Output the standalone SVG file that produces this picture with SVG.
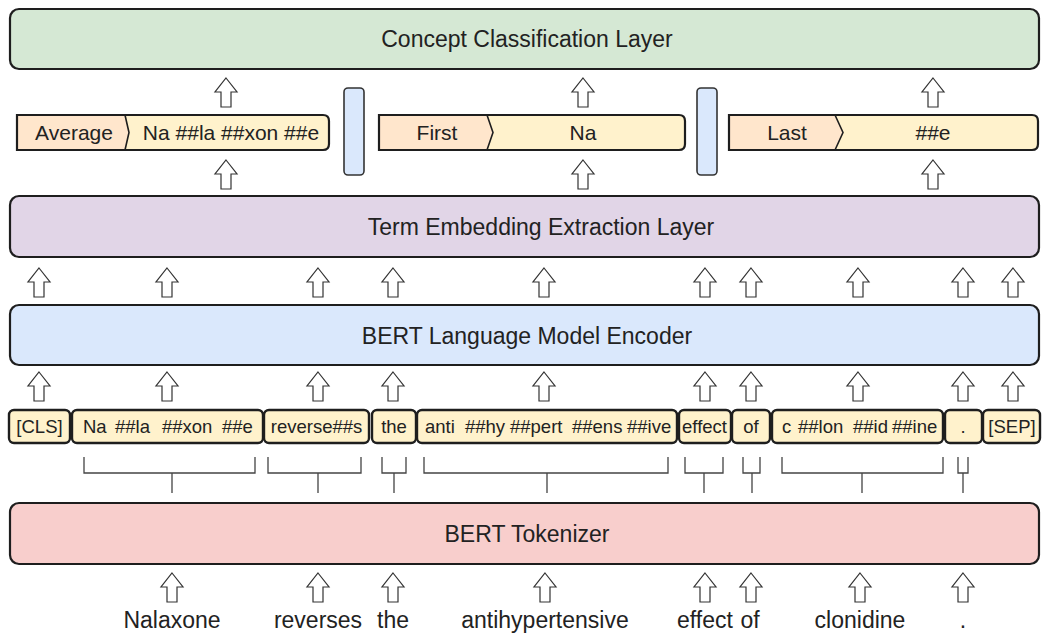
<svg xmlns="http://www.w3.org/2000/svg" xmlns:xlink="http://www.w3.org/1999/xlink" width="1044" height="637" viewBox="0 0 1044 637">
<style>
  text { font-family: "Liberation Sans", Arial, sans-serif; fill: #222; text-anchor: middle; }
  .layer { stroke: #1e1e1e; stroke-width: 2.2; }
  .title { font-size: 23px; }
  .tok { fill: #fff2cc; stroke: #1e1e1e; stroke-width: 2.4; }
  .tokt { font-size: 18.5px; }
  .sub { text-anchor: start; }
  .mid { font-size: 21px; }
  .word { font-size: 23px; }
  .orange { fill: #ffe6cc; }
  .yellow { fill: #fff2cc; }
  .outline { fill: none; stroke: #1e1e1e; stroke-width: 2.2; }
  .chev { fill: none; stroke: #1e1e1e; stroke-width: 1.6; }
  .bar { fill: #dae8fc; stroke: #333; stroke-width: 1.6; }
  .arrow { fill: #fff; stroke: #333; stroke-width: 1.2; stroke-linejoin: miter; }
  .brk { fill: none; stroke: #444; stroke-width: 1.3; }
</style>
<defs>
  <path id="arr" class="arrow" d="M0,0 L11,14 L5,14 L5,29 L-5,29 L-5,14 L-11,14 Z"/>
</defs>

<g id="concept-layer">
  <rect class="layer" x="10" y="9" width="1029" height="60" rx="9" fill="#d5e8d4"/>
  <text class="title" x="527" y="47">Concept Classification Layer</text>
</g>

<g id="pool-average">
  <path class="yellow" d="M17,115 H323 Q329,115 329,121 V144 Q329,150 323,150 H17 Z"/>
  <path class="orange" d="M17,115 L125,115 L129,132.5 L125,150 L17,150 Z"/>
  <path class="chev" d="M125,115 L129,132.5 L125,150"/>
  <path class="outline" d="M17,115 H323 Q329,115 329,121 V144 Q329,150 323,150 H17 Z"/>
  <text class="mid" x="74" y="140">Average</text>
  <text class="mid" x="231" y="140">Na ##la ##xon ##e</text>
</g>

<g id="sep-bar-1">
  <rect class="bar" x="344" y="88" width="20" height="87" rx="4"/>
</g>

<g id="pool-first">
  <path class="yellow" d="M379,115 H679 Q685,115 685,121 V144 Q685,150 679,150 H379 Z"/>
  <path class="orange" d="M379,115 L487,115 L493,132.5 L487,150 L379,150 Z"/>
  <path class="chev" d="M487,115 L493,132.5 L487,150"/>
  <path class="outline" d="M379,115 H679 Q685,115 685,121 V144 Q685,150 679,150 H379 Z"/>
  <text class="mid" x="437" y="140">First</text>
  <text class="mid" x="583" y="140">Na</text>
</g>

<g id="sep-bar-2">
  <rect class="bar" x="697" y="88" width="20" height="87" rx="4"/>
</g>

<g id="pool-last">
  <path class="yellow" d="M729,115 H1032 Q1038,115 1038,121 V144 Q1038,150 1032,150 H729 Z"/>
  <path class="orange" d="M729,115 L835,115 L843,132.5 L835,150 L729,150 Z"/>
  <path class="chev" d="M835,115 L843,132.5 L835,150"/>
  <path class="outline" d="M729,115 H1032 Q1038,115 1038,121 V144 Q1038,150 1032,150 H729 Z"/>
  <text class="mid" x="787" y="140">Last</text>
  <text class="mid" x="933" y="140">##e</text>
</g>

<g id="term-layer">
  <rect class="layer" x="10" y="196" width="1029" height="61" rx="9" fill="#e1d5e7"/>
  <text class="title" x="541" y="235">Term Embedding Extraction Layer</text>
</g>

<g id="encoder-layer">
  <rect class="layer" x="10" y="305" width="1029" height="60" rx="9" fill="#dae8fc"/>
  <text class="title" x="527" y="344">BERT Language Model Encoder</text>
</g>

<g id="tokens">
  <g id="tok-cls"><rect class="tok" x="9" y="410" width="61" height="33" rx="5"/><text class="tokt" x="39.5" y="433">[CLS]</text></g>
  <g id="tok-nalaxone"><rect class="tok" x="72" y="410" width="191" height="33" rx="5"/>
    <text class="tokt sub" y="433"><tspan x="83">Na</tspan><tspan x="115">##la</tspan><tspan x="162">##xon</tspan><tspan x="222">##e</tspan></text></g>
  <g id="tok-reverses"><rect class="tok" x="264" y="410" width="105" height="33" rx="5"/><text class="tokt" x="316.5" y="433">reverse##s</text></g>
  <g id="tok-the"><rect class="tok" x="372" y="410" width="44" height="33" rx="5"/><text class="tokt" x="394" y="433">the</text></g>
  <g id="tok-anti"><rect class="tok" x="417" y="410" width="260" height="33" rx="5"/>
    <text class="tokt sub" y="433"><tspan x="425">anti</tspan><tspan x="465">##hy</tspan><tspan x="510">##pert</tspan><tspan x="572">##ens</tspan><tspan x="627">##ive</tspan></text></g>
  <g id="tok-effect"><rect class="tok" x="679" y="410" width="52" height="33" rx="5"/><text class="tokt" x="704.5" y="433">effect</text></g>
  <g id="tok-of"><rect class="tok" x="732" y="410" width="38" height="33" rx="5"/><text class="tokt" x="751" y="433">of</text></g>
  <g id="tok-clonidine"><rect class="tok" x="772" y="410" width="171" height="33" rx="5"/>
    <text class="tokt sub" y="433"><tspan x="782">c</tspan><tspan x="798">##lon</tspan><tspan x="853">##id</tspan><tspan x="892">##ine</tspan></text></g>
  <g id="tok-dot"><rect class="tok" x="945" y="410" width="37" height="33" rx="5"/><text class="tokt" x="963" y="433">.</text></g>
  <g id="tok-sep"><rect class="tok" x="983" y="410" width="57" height="33" rx="5"/><text class="tokt" x="1012" y="433">[SEP]</text></g>
</g>

<g id="tokenizer-layer">
  <rect class="layer" x="10" y="503" width="1029" height="61" rx="9" fill="#f8cecc"/>
  <text class="title" x="527" y="542">BERT Tokenizer</text>
</g>

<g id="words">
  <text class="word" x="172" y="628">Nalaxone</text>
  <text class="word" x="318" y="628">reverses</text>
  <text class="word" x="393" y="628">the</text>
  <text class="word" x="545" y="628">antihypertensive</text>
  <text class="word" x="705" y="628">effect</text>
  <text class="word" x="750" y="628">of</text>
  <text class="word" x="860" y="628">clonidine</text>
  <text class="word" x="963" y="628">.</text>
</g>

<g id="connectors">
  <g id="brackets">
    <path class="brk" d="M84,457 V473 H255 V457 M172,473 V493"/>
    <path class="brk" d="M268,457 V473 H361 V457 M318,473 V493"/>
    <path class="brk" d="M382,457 V473 H406 V457 M394,473 V493"/>
    <path class="brk" d="M424,457 V473 H668 V457 M547,473 V493"/>
    <path class="brk" d="M685,457 V473 H723 V457 M704,473 V493"/>
    <path class="brk" d="M743,457 V473 H760 V457 M752,473 V493"/>
    <path class="brk" d="M782,457 V473 H943 V457 M862,473 V493"/>
    <path class="brk" d="M958,457 V473 H968 V457 M963,473 V493"/>
  </g>
  <g id="arrows-top">
    <use xlink:href="#arr" href="#arr" x="226" y="78"/>
    <use xlink:href="#arr" href="#arr" x="583" y="78"/>
    <use xlink:href="#arr" href="#arr" x="933" y="78"/>
  </g>
  <g id="arrows-pool">
    <use xlink:href="#arr" href="#arr" x="226" y="160"/>
    <use xlink:href="#arr" href="#arr" x="583" y="160"/>
    <use xlink:href="#arr" href="#arr" x="933" y="160"/>
  </g>
  <g id="arrows-encoder-out">
    <use xlink:href="#arr" href="#arr" x="39" y="268"/>
    <use xlink:href="#arr" href="#arr" x="167" y="268"/>
    <use xlink:href="#arr" href="#arr" x="318" y="268"/>
    <use xlink:href="#arr" href="#arr" x="393" y="268"/>
    <use xlink:href="#arr" href="#arr" x="544" y="268"/>
    <use xlink:href="#arr" href="#arr" x="705" y="268"/>
    <use xlink:href="#arr" href="#arr" x="751" y="268"/>
    <use xlink:href="#arr" href="#arr" x="858" y="268"/>
    <use xlink:href="#arr" href="#arr" x="963" y="268"/>
    <use xlink:href="#arr" href="#arr" x="1013" y="268"/>
  </g>
  <g id="arrows-encoder-in">
    <use xlink:href="#arr" href="#arr" x="39" y="372"/>
    <use xlink:href="#arr" href="#arr" x="167" y="372"/>
    <use xlink:href="#arr" href="#arr" x="318" y="372"/>
    <use xlink:href="#arr" href="#arr" x="393" y="372"/>
    <use xlink:href="#arr" href="#arr" x="544" y="372"/>
    <use xlink:href="#arr" href="#arr" x="705" y="372"/>
    <use xlink:href="#arr" href="#arr" x="751" y="372"/>
    <use xlink:href="#arr" href="#arr" x="858" y="372"/>
    <use xlink:href="#arr" href="#arr" x="963" y="372"/>
    <use xlink:href="#arr" href="#arr" x="1013" y="372"/>
  </g>
  <g id="arrows-words">
    <use xlink:href="#arr" href="#arr" x="172" y="573"/>
    <use xlink:href="#arr" href="#arr" x="318" y="573"/>
    <use xlink:href="#arr" href="#arr" x="393" y="573"/>
    <use xlink:href="#arr" href="#arr" x="545" y="573"/>
    <use xlink:href="#arr" href="#arr" x="705" y="573"/>
    <use xlink:href="#arr" href="#arr" x="751" y="573"/>
    <use xlink:href="#arr" href="#arr" x="860" y="573"/>
    <use xlink:href="#arr" href="#arr" x="963" y="573"/>
  </g>
</g>
</svg>
